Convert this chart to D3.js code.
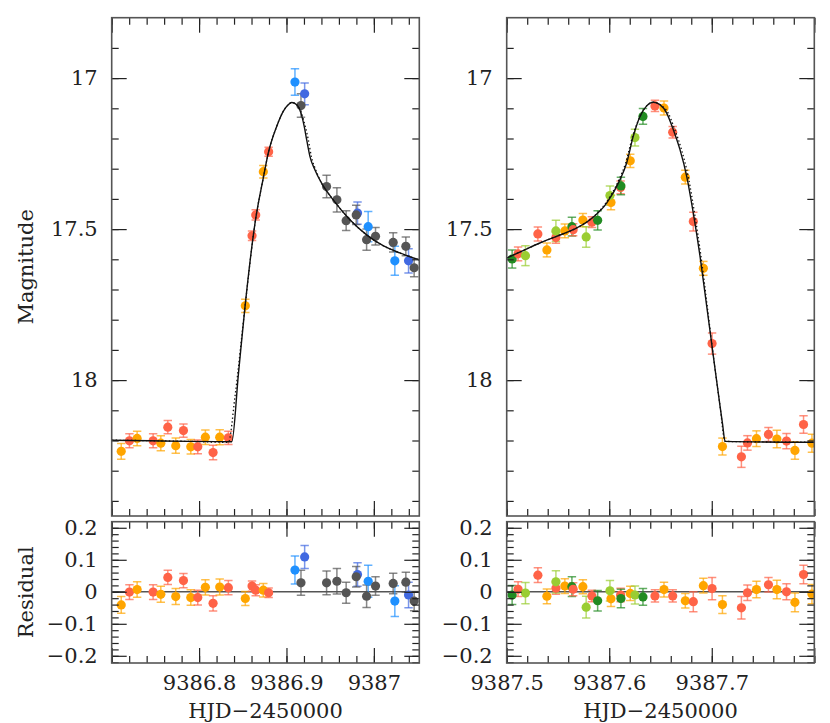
<!DOCTYPE html>
<html>
<head>
<meta charset="utf-8">
<script src="https://cdn.jsdelivr.net/npm/d3@7"></script>
<style>
  body { margin: 0; background: #fff; }
  text { font-family: 'DejaVu Serif', serif; fill: #222; }
</style>
</head>
<body>
<div id="chart"></div>
<script>
// ---- data: first window (rise) ----
const leftTime = [9386.7109, 9386.7203, 9386.7291, 9386.7474, 9386.7562, 9386.7642, 9386.7733, 9386.7821,
  9386.7905, 9386.7985, 9386.8072, 9386.8160, 9386.8236, 9386.8335, 9386.8529, 9386.8606, 9386.8648,
  9386.8735, 9386.8796, 9386.9097, 9386.9208, 9386.9166, 9386.9459, 9386.9577, 9386.9683, 9386.9813,
  9386.9798, 9386.9935, 9386.9917, 9387.0019, 9387.0221, 9387.0366, 9387.0240, 9387.0397, 9387.0461]
const leftMag = [18.236, 18.201, 18.193, 18.201, 18.209, 18.156, 18.217, 18.167, 18.221, 18.221, 18.189,
  18.240, 18.189, 18.191, 17.754, 17.522, 17.453, 17.310, 17.244, 17.013, 17.052, 17.091, 17.359, 17.403,
  17.472, 17.447, 17.453, 17.492, 17.535, 17.524, 17.544, 17.557, 17.605, 17.605, 17.628]
const leftErr = [0.026, 0.023, 0.024, 0.023, 0.025, 0.022, 0.025, 0.022, 0.024, 0.023, 0.024, 0.024,
  0.025, 0.022, 0.022, 0.016, 0.017, 0.021, 0.015, 0.044, 0.036, 0.039, 0.037, 0.040, 0.033, 0.037,
  0.032, 0.050, 0.035, 0.029, 0.032, 0.031, 0.048, 0.040, 0.030]
const leftResid = [-0.041, -0.001, 0.007, -0.001, -0.008, 0.045, -0.015, 0.035, -0.018, -0.018, 0.014,
  -0.036, 0.015, 0.013, -0.021, 0.018, 0.005, 0.005, -0.003, 0.068, 0.109, 0.028, 0.028, 0.033, -0.003,
  0.054, 0.047, 0.033, -0.014, 0.018, 0.026, 0.030, -0.029, -0.010, -0.029]
const leftTel = ['t1', 't2', 't1', 't2', 't1', 't2', 't1', 't2', 't1', 't2', 't1', 't2', 't1', 't2',
  't1', 't2', 't2', 't1', 't2', 't3', 't4', 't5', 't5', 't5', 't5', 't4', 't5', 't3', 't5', 't5', 't5',
  't5', 't3', 't4', 't5']

const leftModelTime = [9386.7002, 9386.744, 9386.7897, 9386.8374, 9386.845, 9386.8526, 9386.864,
  9386.8735, 9386.8792, 9386.8888, 9386.8963, 9386.902, 9386.906, 9386.9117, 9386.9166, 9386.9203,
  9386.9231, 9386.9269, 9386.9326, 9386.9402, 9386.9535, 9386.9726, 9386.9917, 9387.0106, 9387.0297,
  9387.0518]
const leftModelMag = [18.199, 18.201, 18.203, 18.204, 17.98, 17.756, 17.48, 17.33, 17.248, 17.16,
  17.11, 17.088, 17.081, 17.088, 17.116, 17.16, 17.204, 17.26, 17.304, 17.348, 17.403, 17.469, 17.519,
  17.555, 17.579, 17.602]
const leftAltTime = [9386.7002, 9386.7897, 9386.8335, 9386.8411, 9386.8526, 9386.864, 9386.8735,
  9386.8792, 9386.8888, 9386.8963, 9386.902, 9386.906, 9386.9117, 9386.9166, 9386.9215, 9386.925,
  9386.9285, 9386.9335, 9386.9402, 9386.9535, 9386.9726, 9386.9917, 9387.0106, 9387.0297, 9387.0518]
const leftAltMag = [18.199, 18.203, 18.206, 18.054, 17.756, 17.48, 17.33, 17.248, 17.16, 17.11,
  17.088, 17.081, 17.088, 17.112, 17.16, 17.204, 17.26, 17.304, 17.348, 17.403, 17.469, 17.519,
  17.555, 17.579, 17.602]

// ---- data: second window (fall) ----
const rightTime = [9387.5053, 9387.5111, 9387.5183, 9387.5304, 9387.5392, 9387.5480, 9387.5480,
  9387.5567, 9387.5636, 9387.5648, 9387.5743, 9387.5775, 9387.5831, 9387.5887, 9387.6017, 9387.6007,
  9387.6111, 9387.6114, 9387.6205, 9387.6251, 9387.6329, 9387.6446, 9387.6534, 9387.6619, 9387.6742,
  9387.6820, 9387.6918, 9387.7003, 9387.7104, 9387.7289, 9387.7348, 9387.7436, 9387.7553, 9387.7635,
  9387.7729, 9387.7811, 9387.7895, 9387.7977]
const rightMag = [17.599, 17.582, 17.588, 17.516, 17.569, 17.528, 17.506, 17.506, 17.492, 17.502,
  17.470, 17.526, 17.477, 17.471, 17.412, 17.389, 17.362, 17.357, 17.274, 17.197, 17.127, 17.092,
  17.099, 17.179, 17.328, 17.475, 17.630, 17.879, 18.220, 18.254, 18.208, 18.194, 18.180, 18.195,
  18.202, 18.233, 18.147, 18.209]
const rightErr = [0.030, 0.023, 0.033, 0.023, 0.023, 0.019, 0.035, 0.023, 0.031, 0.020, 0.022, 0.034,
  0.018, 0.032, 0.024, 0.032, 0.021, 0.029, 0.022, 0.028, 0.026, 0.019, 0.023, 0.019, 0.023, 0.031,
  0.023, 0.035, 0.028, 0.035, 0.024, 0.026, 0.023, 0.029, 0.025, 0.029, 0.029, 0.030]
const rightResid = [-0.010, 0.008, -0.004, 0.052, -0.014, 0.011, 0.031, 0.018, 0.016, 0.008, 0.016,
  -0.048, -0.013, -0.028, -0.022, 0.003, -0.010, -0.021, -0.005, -0.010, -0.016, -0.013, 0.007,
  -0.013, -0.028, -0.031, 0.019, 0.010, -0.040, -0.050, -0.003, 0.007, 0.022, 0.007, 0.000, -0.033,
  0.054, -0.007]
const rightTel = ['t6', 't2', 't7', 't2', 't1', 't2', 't7', 't1', 't6', 't2', 't1', 't7', 't2', 't6',
  't1', 't7', 't2', 't6', 't1', 't7', 't6', 't2', 't1', 't2', 't1', 't2', 't1', 't2', 't1', 't2', 't2',
  't1', 't2', 't1', 't2', 't1', 't2', 't1']

const rightModelTime = [9387.4998, 9387.516, 9387.5323, 9387.5486, 9387.5648, 9387.5812, 9387.5975,
  9387.6104, 9387.617, 9387.6234, 9387.63, 9387.6365, 9387.643, 9387.6495, 9387.656, 9387.6625,
  9387.669, 9387.6756, 9387.682, 9387.6886, 9387.6951, 9387.7016, 9387.7081, 9387.7105, 9387.713,
  9387.8002]
const rightModelMag = [17.596, 17.571, 17.546, 17.524, 17.502, 17.469, 17.414, 17.337, 17.281, 17.193,
  17.127, 17.092, 17.080, 17.088, 17.116, 17.171, 17.237, 17.326, 17.447, 17.591, 17.756, 17.922,
  18.087, 18.145, 18.203, 18.206]
const rightAltTime = [9387.4998, 9387.516, 9387.5323, 9387.5486, 9387.5648, 9387.5812, 9387.5965,
  9387.6094, 9387.616, 9387.6228, 9387.63, 9387.6365, 9387.643, 9387.6495, 9387.6575, 9387.664,
  9387.6705, 9387.677, 9387.6832, 9387.6895, 9387.6956, 9387.7016, 9387.7081, 9387.713, 9387.8002]
const rightAltMag = [17.596, 17.571, 17.546, 17.524, 17.502, 17.469, 17.414, 17.337, 17.281, 17.193,
  17.127, 17.092, 17.080, 17.088, 17.116, 17.171, 17.237, 17.326, 17.447, 17.591, 17.756, 17.922,
  18.087, 18.203, 18.206]

// ---- ticks / labels ----
const telescopes = ['t1', 't2', 't3', 't4', 't5', 't6', 't7']
const magLabels = [17, 17.5, 18]
const residLabels = [-0.2, -0.1, 0, 0.1, 0.2]
const leftLabels = [9386.8, 9386.9, 9387]
const rightLabels = [9387.5, 9387.6, 9387.7]

const width = 830
const height = 723

const svg = d3
  .select('#chart')
  .append('svg')
  .attr('width', width)
  .attr('height', height)

const colorScale = d3
  .scaleOrdinal()
  .domain(telescopes)
  .range(['#ffa500', '#ff6347', '#1e90ff', '#4169e1', '#555555', '#228b22', '#9acd32'])

const topBox = { y0: 17.7, y1: 516 }
const resBox = { y0: 521.7, y1: 663 }

const magScale = d3.scaleLinear().domain([16.8, 18.45]).range([topBox.y0, topBox.y1])
const residScale = d3.scaleLinear().domain([0.219, -0.2225]).range([resBox.y0, resBox.y1])

const panels = [
  {
    id: 'l', x0: 111.7, x1: 419.3, domain: [9386.7, 9387.052], labels: leftLabels,
    time: leftTime, mag: leftMag, err: leftErr, resid: leftResid, tel: leftTel,
    model: [leftModelTime, leftModelMag], alt: [leftAltTime, leftAltMag]
  },
  {
    id: 'r', x0: 506.7, x1: 814.3, domain: [9387.5, 9387.8], labels: rightLabels,
    time: rightTime, mag: rightMag, err: rightErr, resid: rightResid, tel: rightTel,
    model: [rightModelTime, rightModelMag], alt: [rightAltTime, rightAltMag]
  }
]

const defs = svg.append('defs')
const fmt = d3.format('')

function addAxis(g, axisFn, scale, values, size, transform, labelFmt, pad) {
  const axis = axisFn(scale)
    .tickValues(values)
    .tickSize(-size)
    .tickPadding(pad || 0)
    .tickFormat(labelFmt || (() => ''))
  const a = g.append('g').attr('transform', transform).call(axis)
  a.select('.domain').remove()
  a.selectAll('line').attr('stroke', '#222').attr('stroke-width', 1.2)
  a.selectAll('text')
    .attr('font-family', "'DejaVu Serif', serif")
    .attr('font-size', 21)
    .attr('fill', '#222')
  return a
}

function drawPoints(g, p, x, y, values) {
  const pts = d3.range(p.time.length).map(i => ({
    t: p.time[i], v: values[i], e: p.err[i], tel: p.tel[i]
  }))
  const bars = g.selectAll('.bar').data(pts).enter().append('g')
    .attr('stroke', d => colorScale(d.tel))
    .attr('stroke-opacity', 0.7)
    .attr('stroke-width', 1.5)
  bars.append('line')
    .attr('x1', d => x(d.t)).attr('x2', d => x(d.t))
    .attr('y1', d => y(d.v - d.e)).attr('y2', d => y(d.v + d.e))
  bars.append('line')
    .attr('x1', d => x(d.t) - 4.2).attr('x2', d => x(d.t) + 4.2)
    .attr('y1', d => y(d.v - d.e)).attr('y2', d => y(d.v - d.e))
  bars.append('line')
    .attr('x1', d => x(d.t) - 4.2).attr('x2', d => x(d.t) + 4.2)
    .attr('y1', d => y(d.v + d.e)).attr('y2', d => y(d.v + d.e))
  g.selectAll('.dot').data(pts).enter().append('circle')
    .attr('cx', d => x(d.t))
    .attr('cy', d => y(d.v))
    .attr('r', 4.6)
    .attr('fill', d => colorScale(d.tel))
}

panels.forEach(p => {
  const x = d3.scaleLinear().domain(p.domain).range([p.x0, p.x1])
  const minorX = d3.range(Math.ceil(p.domain[0] / 0.02 - 1e-6), Math.floor(p.domain[1] / 0.02 + 1e-6) + 1)
    .map(k => +(k * 0.02).toFixed(2))
  const majorX = minorX.filter(v => Math.abs(v * 10 - Math.round(v * 10)) < 1e-6)
  const minorMag = d3.range(169, 185).map(k => k / 10)
  const minorRes = d3.range(-11, 11).map(k => k / 50)

  ;[['top', topBox], ['res', resBox]].forEach(([name, box]) => {
    defs.append('clipPath').attr('id', 'clip-' + p.id + name)
      .append('rect')
      .attr('x', p.x0).attr('y', box.y0)
      .attr('width', p.x1 - p.x0).attr('height', box.y1 - box.y0)
  })

  // --- top: light curve ---
  const gTop = svg.append('g').attr('clip-path', 'url(#clip-' + p.id + 'top)')
  const line = d3.line()
    .x(d => x(d[0]))
    .y(d => magScale(d[1]))
    .curve(d3.curveMonotoneX)
  const toPairs = arr => arr[0].map((t, i) => [t, arr[1][i]])

  drawPoints(gTop, p, x, magScale, p.mag)

  gTop.append('path')
    .datum(toPairs(p.alt))
    .attr('d', line)
    .attr('fill', 'none')
    .attr('stroke', '#111')
    .attr('stroke-width', 1.3)
    .attr('stroke-dasharray', '1.4,2.4')
  gTop.append('path')
    .datum(toPairs(p.model))
    .attr('d', line)
    .attr('fill', 'none')
    .attr('stroke', '#111')
    .attr('stroke-width', 1.4)

  // --- bottom: residuals ---
  const gRes = svg.append('g').attr('clip-path', 'url(#clip-' + p.id + 'res)')
  gRes.append('line')
    .attr('x1', p.x0).attr('x2', p.x1)
    .attr('y1', residScale(0)).attr('y2', residScale(0))
    .attr('stroke', '#555').attr('stroke-width', 1.4)
  drawPoints(gRes, p, x, residScale, p.resid)

  // --- frames and ticks ---
  ;[[topBox, magScale, minorMag, magLabels, false], [resBox, residScale, minorRes, residLabels, true]]
    .forEach(([box, y, minorY, majorY, labelX]) => {
      const g = svg.append('g')
      addAxis(g, d3.axisBottom, x, minorX, 7, `translate(0,${box.y1})`)
      addAxis(g, d3.axisTop, x, minorX, 7, `translate(0,${box.y0})`)
      addAxis(g, d3.axisBottom, x, majorX, 15, `translate(0,${box.y1})`)
      addAxis(g, d3.axisTop, x, majorX, 15, `translate(0,${box.y0})`)
      if (labelX) {
        addAxis(g, d3.axisBottom, x, p.labels, 0, `translate(0,${box.y1})`, fmt, 12)
      }
      addAxis(g, d3.axisLeft, y, minorY, 7, `translate(${p.x0},0)`)
      addAxis(g, d3.axisRight, y, minorY, 7, `translate(${p.x1},0)`)
      addAxis(g, d3.axisLeft, y, majorY, 15, `translate(${p.x0},0)`, fmt, 14)
      addAxis(g, d3.axisRight, y, majorY, 15, `translate(${p.x1},0)`)
      g.append('rect')
        .attr('x', p.x0).attr('y', box.y0)
        .attr('width', p.x1 - p.x0).attr('height', box.y1 - box.y0)
        .attr('fill', 'none')
        .attr('stroke', '#555')
        .attr('stroke-width', 1.6)
    })

  svg.append('text')
    .attr('x', (p.x0 + p.x1) / 2)
    .attr('y', 718)
    .attr('text-anchor', 'middle')
    .attr('font-size', 21)
    .text('HJD−2450000')
})

svg.append('text')
  .attr('transform', `translate(33,${(topBox.y0 + topBox.y1) / 2}) rotate(-90)`)
  .attr('text-anchor', 'middle')
  .attr('font-size', 21)
  .text('Magnitude')

svg.append('text')
  .attr('transform', `translate(33,${(resBox.y0 + resBox.y1) / 2}) rotate(-90)`)
  .attr('text-anchor', 'middle')
  .attr('font-size', 21)
  .text('Residual')
</script>
</body>
</html>
